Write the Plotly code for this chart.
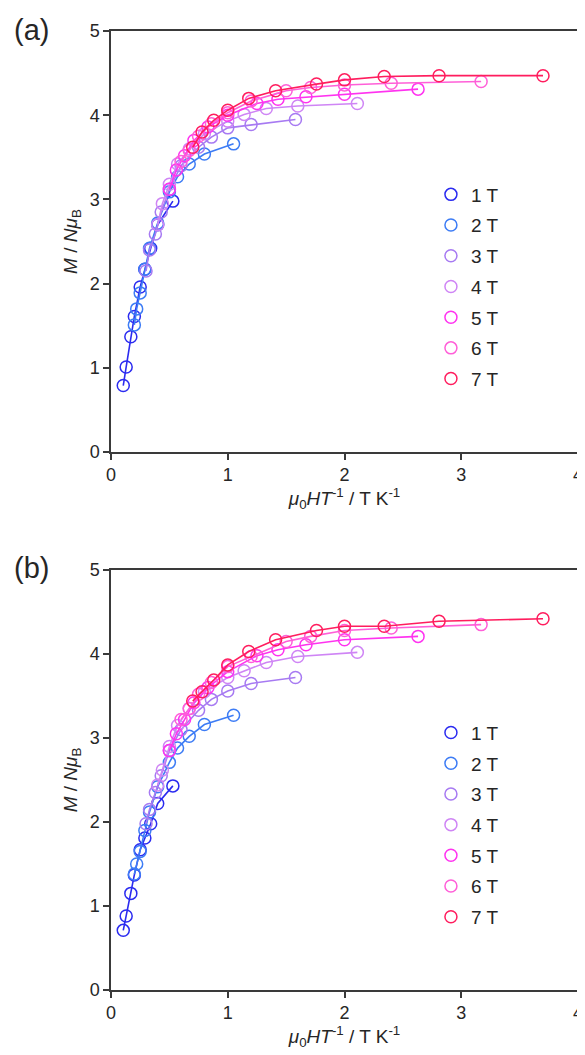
import plotly.graph_objects as go

# ── Data ─────────────────────────────────────────────────────────────────────
FIELDS = ["1 T", "2 T", "3 T", "4 T", "5 T", "6 T", "7 T"]
COLORS = ["#2b2bf0", "#3d7cf5", "#a77af2", "#cf85f5", "#ff33f0", "#ff5fd8", "#ff1d5e"]

# μ0H/T values (same temperatures for both panels)
x_1t = [0.53, 0.40, 0.34, 0.29, 0.25, 0.20, 0.17, 0.13, 0.105]
x_2t = [1.05, 0.80, 0.67, 0.57, 0.50, 0.40, 0.33, 0.29, 0.25, 0.22, 0.20]
x_3t = [1.58, 1.20, 1.00, 0.86, 0.75, 0.60, 0.50, 0.43, 0.38, 0.33, 0.30]
x_4t = [2.11, 1.60, 1.33, 1.14, 1.00, 0.80, 0.67, 0.57, 0.50, 0.44, 0.40]
x_5t = [2.63, 2.00, 1.67, 1.43, 1.25, 1.00, 0.83, 0.71, 0.63, 0.56, 0.50]
x_6t = [3.17, 2.40, 2.00, 1.71, 1.50, 1.20, 1.00, 0.86, 0.75, 0.67, 0.60]
x_7t = [3.70, 2.81, 2.34, 2.00, 1.76, 1.41, 1.18, 1.00, 0.88, 0.78, 0.70]

# panel (a) magnetisation, M / NμB
a_1t = [2.98, 2.70, 2.42, 2.17, 1.96, 1.61, 1.37, 1.01, 0.79]
a_2t = [3.66, 3.54, 3.42, 3.27, 3.09, 2.72, 2.42, 2.17, 1.89, 1.70, 1.51]
a_3t = [3.95, 3.89, 3.85, 3.74, 3.62, 3.40, 3.12, 2.85, 2.59, 2.40, 2.15]
a_4t = [4.14, 4.11, 4.08, 4.01, 3.93, 3.78, 3.60, 3.42, 3.18, 2.95, 2.70]
a_5t = [4.31, 4.25, 4.22, 4.19, 4.14, 4.00, 3.86, 3.70, 3.52, 3.35, 3.12]
a_6t = [4.40, 4.38, 4.36, 4.33, 4.29, 4.17, 4.03, 3.90, 3.75, 3.58, 3.45]
a_7t = [4.47, 4.47, 4.46, 4.42, 4.37, 4.29, 4.20, 4.06, 3.94, 3.80, 3.62]

# panel (b) magnetisation
b_1t = [2.43, 2.22, 1.98, 1.81, 1.67, 1.37, 1.15, 0.88, 0.71]
b_2t = [3.27, 3.16, 3.02, 2.88, 2.71, 2.42, 2.12, 1.90, 1.65, 1.50, 1.38]
b_3t = [3.72, 3.65, 3.56, 3.46, 3.33, 3.10, 2.85, 2.55, 2.35, 2.15, 1.98]
b_4t = [4.02, 3.97, 3.90, 3.80, 3.72, 3.55, 3.35, 3.15, 2.90, 2.62, 2.44]
b_5t = [4.21, 4.17, 4.11, 4.05, 3.98, 3.79, 3.60, 3.42, 3.22, 3.05, 2.85]
b_6t = [4.35, 4.31, 4.28, 4.21, 4.15, 3.97, 3.85, 3.66, 3.52, 3.35, 3.22]
b_7t = [4.42, 4.39, 4.33, 4.33, 4.28, 4.17, 4.03, 3.87, 3.69, 3.55, 3.44]

X_ALL = [x_1t, x_2t, x_3t, x_4t, x_5t, x_6t, x_7t]
PANEL_A = [a_1t, a_2t, a_3t, a_4t, a_5t, a_6t, a_7t]
PANEL_B = [b_1t, b_2t, b_3t, b_4t, b_5t, b_6t, b_7t]

FONT = "Liberation Sans, Arial, sans-serif"
TEXT = "#262626"
AXIS = "#3a3a3a"

# the page body keeps its default 8px margin, so the figure is 8px smaller
W, H = 577, 1047

fig = go.Figure()


def add_panel(values, xa, ya, legend_name):
    for field, color, xs, ys in zip(FIELDS, COLORS, X_ALL, values):
        # connecting line
        fig.add_trace(go.Scatter(
            x=xs, y=ys, xaxis=xa, yaxis=ya, mode="lines",
            line=dict(color=color, width=1.6),
            showlegend=False, hoverinfo="skip",
        ))
        # open circle markers, these carry the legend entry
        fig.add_trace(go.Scatter(
            x=xs, y=ys, xaxis=xa, yaxis=ya, mode="markers", name=field,
            marker=dict(symbol="circle-open", size=12, color=color, line=dict(width=1.5, color=color)),
            legend=legend_name, legendgroup=legend_name + field,
        ))


add_panel(PANEL_A, "x", "y", "legend")
add_panel(PANEL_B, "x2", "y2", "legend2")

x_title = "<i>μ</i><sub>0</sub><i>HT</i><sup>-1</sup> / T K<sup>-1</sup>"
y_title = "<i>M</i> / <i>Nμ</i><sub>B</sub>"

axis_common = dict(
    showline=True, linecolor=AXIS, linewidth=1.5, mirror=True,
    ticks="outside", ticklen=6, tickwidth=1.5, tickcolor=AXIS,
    showgrid=False, zeroline=False, automargin=False, ticklabeloverflow="allow",
    tickfont=dict(size=18, color=TEXT, family=FONT),
)
x_axis = dict(axis_common, range=[0, 4], dtick=1,
              title=dict(text=x_title, font=dict(size=19, color=TEXT, family=FONT), standoff=1))
y_axis = dict(axis_common, range=[0, 5], dtick=1,
              title=dict(text=y_title, font=dict(size=19, color=TEXT, family=FONT), standoff=7))

legend_common = dict(
    bgcolor="rgba(0,0,0,0)", font=dict(size=19, color=TEXT, family=FONT),
    tracegroupgap=3, itemwidth=30, xanchor="left", yanchor="top",
)

fig.update_layout(
    width=W, height=H,
    margin=dict(l=0, r=0, t=0, b=0),
    paper_bgcolor="white", plot_bgcolor="white",
    font=dict(family=FONT, color=TEXT),
    xaxis=dict(x_axis, domain=[0.1785, 0.9879], anchor="y"),
    yaxis=dict(y_axis, domain=[0.5759, 0.9780], anchor="x"),
    xaxis2=dict(x_axis, domain=[0.1785, 0.9879], anchor="y2"),
    yaxis2=dict(y_axis, domain=[0.0621, 0.4632], anchor="x2"),
    legend=dict(legend_common, x=0.733, y=0.840),
    legend2=dict(legend_common, x=0.733, y=0.326),
    annotations=[
        dict(text="(a)", x=0.007, y=0.979, xref="paper", yref="paper", showarrow=False,
             xanchor="left", yanchor="middle", font=dict(size=29, color=TEXT, family=FONT)),
        dict(text="(b)", x=0.007, y=0.4652, xref="paper", yref="paper", showarrow=False,
             xanchor="left", yanchor="middle", font=dict(size=29, color=TEXT, family=FONT)),
    ],
)

fig.write_html("out.html")
